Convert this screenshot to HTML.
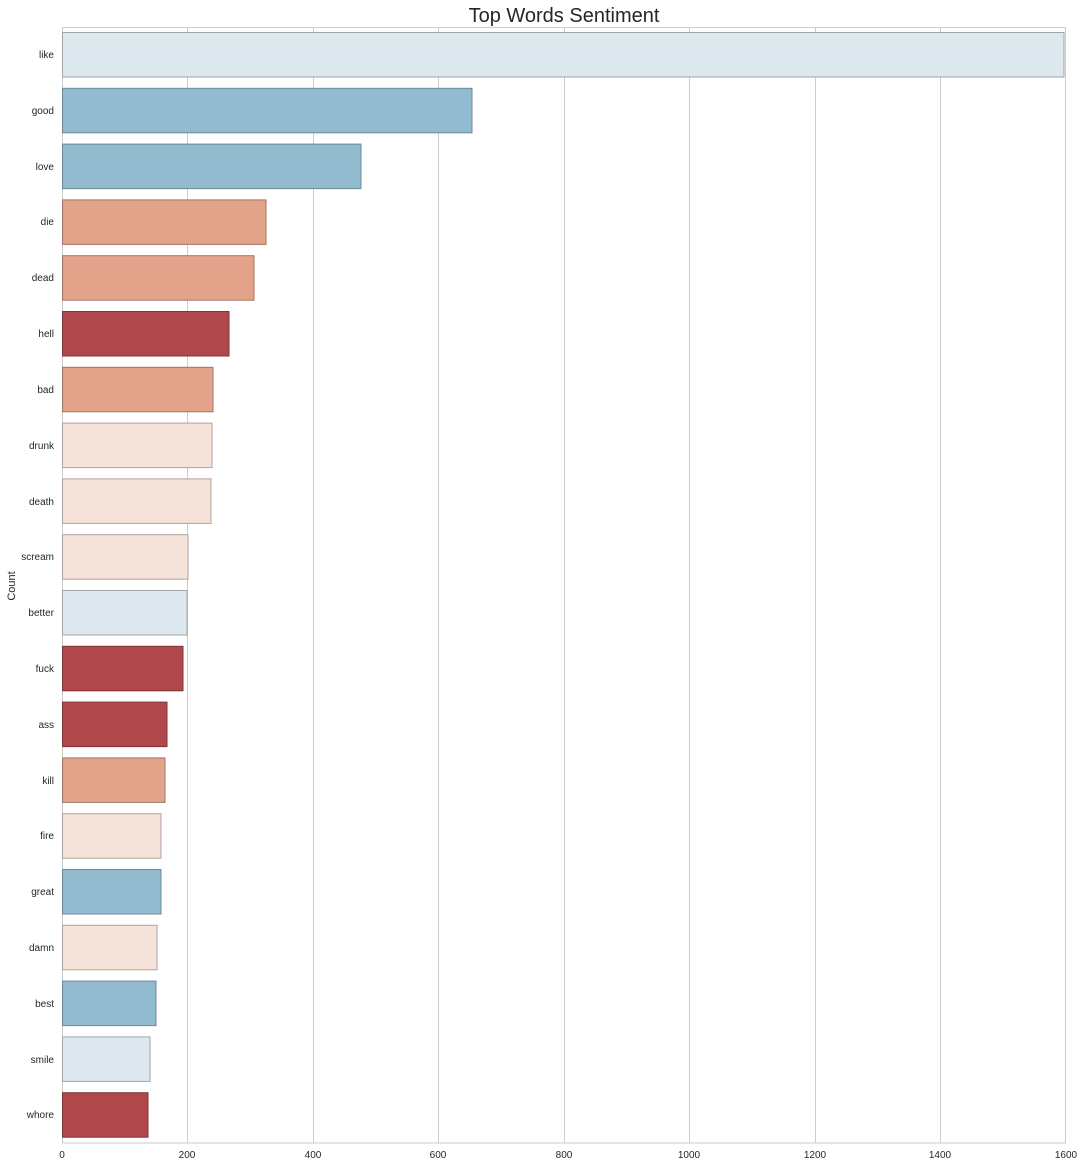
<!DOCTYPE html>
<html><head><style>body{margin:0;background:#fff}</style></head><body>
<svg width="1084" height="1167" xmlns="http://www.w3.org/2000/svg" font-family="Liberation Sans, sans-serif">
<rect width="1084" height="1167" fill="#fff"/>
<g stroke="#cccccc" stroke-width="1">
<line x1="187.5" y1="27" x2="187.5" y2="1143"/>
<line x1="313.5" y1="27" x2="313.5" y2="1143"/>
<line x1="438.5" y1="27" x2="438.5" y2="1143"/>
<line x1="564.5" y1="27" x2="564.5" y2="1143"/>
<line x1="689.5" y1="27" x2="689.5" y2="1143"/>
<line x1="815.5" y1="27" x2="815.5" y2="1143"/>
<line x1="940.5" y1="27" x2="940.5" y2="1143"/>
<rect x="62.5" y="27.5" width="1003" height="1115.5" fill="none"/>
</g>
<g stroke-width="1">
<rect x="62.5" y="32.5" width="1001.5" height="44.5" fill="#dde8ef" stroke="#9ea6ab"/>
<rect x="62.5" y="88.3" width="409.5" height="44.5" fill="#93bbd0" stroke="#6b8898"/>
<rect x="62.5" y="144.1" width="298.5" height="44.5" fill="#93bbd0" stroke="#6b8898"/>
<rect x="62.5" y="199.9" width="203.5" height="44.5" fill="#e3a38a" stroke="#a07565"/>
<rect x="62.5" y="255.7" width="191.5" height="44.5" fill="#e3a38a" stroke="#a07565"/>
<rect x="62.5" y="311.5" width="166.5" height="44.5" fill="#b0484b" stroke="#7e3537"/>
<rect x="62.5" y="367.3" width="150.5" height="44.5" fill="#e3a38a" stroke="#a07565"/>
<rect x="62.5" y="423.1" width="149.5" height="44.5" fill="#f5e2d9" stroke="#b0a39d"/>
<rect x="62.5" y="478.9" width="148.5" height="44.5" fill="#f5e2d9" stroke="#b0a39d"/>
<rect x="62.5" y="534.7" width="125.5" height="44.5" fill="#f5e2d9" stroke="#b0a39d"/>
<rect x="62.5" y="590.5" width="124.5" height="44.5" fill="#dde8ef" stroke="#9ea6ab"/>
<rect x="62.5" y="646.3" width="120.5" height="44.5" fill="#b0484b" stroke="#7e3537"/>
<rect x="62.5" y="702.1" width="104.5" height="44.5" fill="#b0484b" stroke="#7e3537"/>
<rect x="62.5" y="757.9" width="102.5" height="44.5" fill="#e3a38a" stroke="#a07565"/>
<rect x="62.5" y="813.7" width="98.5" height="44.5" fill="#f5e2d9" stroke="#b0a39d"/>
<rect x="62.5" y="869.5" width="98.5" height="44.5" fill="#93bbd0" stroke="#6b8898"/>
<rect x="62.5" y="925.3" width="94.5" height="44.5" fill="#f5e2d9" stroke="#b0a39d"/>
<rect x="62.5" y="981.1" width="93.5" height="44.5" fill="#93bbd0" stroke="#6b8898"/>
<rect x="62.5" y="1036.9" width="87.5" height="44.5" fill="#dde8ef" stroke="#9ea6ab"/>
<rect x="62.5" y="1092.7" width="85.5" height="44.5" fill="#b0484b" stroke="#7e3537"/>
</g>
<g font-size="10" fill="#262626" text-anchor="end">
<text x="54" y="58">like</text><text x="54" y="114">good</text><text x="54" y="170">love</text>
<text x="54" y="225">die</text><text x="54" y="281">dead</text><text x="54" y="337">hell</text>
<text x="54" y="393">bad</text><text x="54" y="449">drunk</text><text x="54" y="505">death</text>
<text x="54" y="560">scream</text><text x="54" y="616">better</text><text x="54" y="672">fuck</text>
<text x="54" y="728">ass</text><text x="54" y="784">kill</text><text x="54" y="839">fire</text>
<text x="54" y="895">great</text><text x="54" y="951">damn</text><text x="54" y="1007">best</text>
<text x="54" y="1063">smile</text><text x="54" y="1118">whore</text>
</g>
<g font-size="10" fill="#262626" text-anchor="middle">
<text x="62" y="1158">0</text><text x="187" y="1158">200</text><text x="313" y="1158">400</text>
<text x="438" y="1158">600</text><text x="564" y="1158">800</text><text x="689" y="1158">1000</text>
<text x="815" y="1158">1200</text><text x="940" y="1158">1400</text><text x="1066" y="1158">1600</text>
</g>
<text transform="translate(15,586) rotate(-90)" font-size="11" fill="#262626" text-anchor="middle">Count</text>
<text x="564" y="22" font-size="20" fill="#262626" text-anchor="middle">Top Words Sentiment</text>
</svg>
</body></html>
